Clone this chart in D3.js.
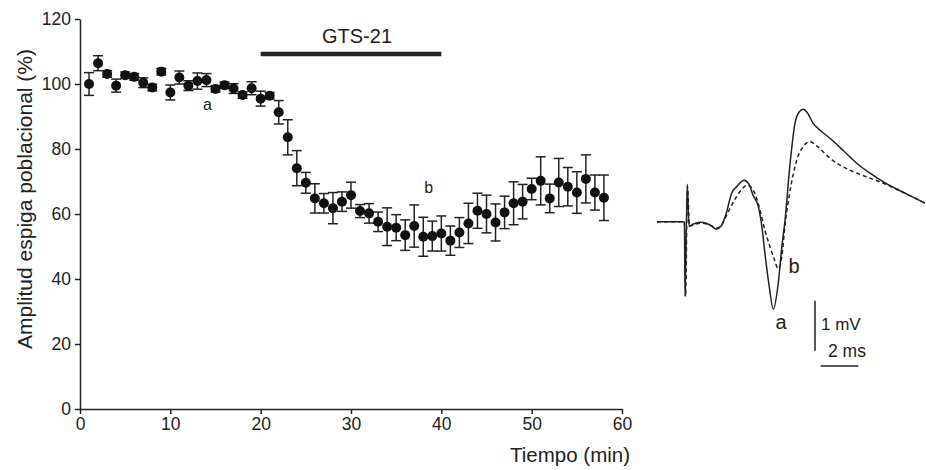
<!DOCTYPE html>
<html>
<head>
<meta charset="utf-8">
<script src="https://cdn.jsdelivr.net/npm/d3@7"></script>
<style>
  body { margin: 0; background: #fff; }
  svg { font-family: "Liberation Sans", Arial, sans-serif; }
  .axis path, .axis line { stroke: #222; stroke-width: 1.5; }
  .axis text { fill: #222; font-size: 17.5px; }
</style>
</head>
<body>
<svg id="chart" width="926" height="470"></svg>
<script>
// time course: minutes, mean (%) and sem
const minutes = d3.range(1, 59);
const amplitude = [100.0, 106.4, 103.1, 99.5, 102.7, 102.2, 100.4, 98.9, 103.8, 97.4,
  102.0, 99.5, 100.9, 101.2, 98.5, 99.6, 98.6, 96.6, 98.7, 95.5,
  96.4, 91.3, 83.6, 74.1, 69.6, 64.8, 63.3, 61.8, 63.8, 65.8,
  60.9, 60.2, 57.6, 56.1, 55.8, 53.5, 56.3, 53.0, 53.2, 54.0,
  51.8, 54.3, 57.1, 61.0, 60.0, 57.4, 60.5, 63.3, 63.8, 67.7,
  70.2, 64.8, 69.7, 68.4, 66.6, 70.8, 66.6, 65.0];
const sem = [3.5, 2.3, 1.0, 2.0, 1.0, 1.0, 1.5, 1.0, 1.0, 2.3,
  2.0, 1.5, 2.5, 2.0, 1.0, 1.0, 1.5, 1.0, 2.0, 2.3,
  1.0, 3.6, 5.4, 5.4, 3.2, 4.5, 3.0, 4.8, 3.0, 4.0,
  2.0, 3.0, 3.0, 5.8, 4.0, 4.7, 6.5, 6.0, 4.6, 5.4,
  4.5, 4.6, 6.2, 5.4, 5.8, 5.7, 5.0, 6.6, 5.3, 3.3,
  7.4, 4.4, 7.4, 5.9, 6.4, 7.4, 5.4, 7.0];
const xTicks = [0, 10, 20, 30, 40, 50, 60];
const yTicks = [0, 20, 40, 60, 80, 100, 120];
const drugPeriod = [20, 40];
const drugName = "GTS-21";
const pointLabels = [{ text: "a", t: 14.1, v: 92.0 }, { text: "b", t: 38.6, v: 66.6 }];

// field potential traces: ms, mV
const traceA_t = [0, 1.46, 1.49, 1.61, 1.70, 1.91, 2.29, 2.61, 2.93, 3.14, 3.40, 3.67, 3.97, 4.26, 4.63, 4.89,
  5.11, 5.39, 5.59, 5.74, 5.96, 6.19, 6.45, 6.65, 6.81, 7.07, 7.34, 7.55, 7.78, 7.98, 8.30, 8.67,
  9.20, 9.89, 10.62, 11.33, 12.02, 13.19, 14.26];
const traceA_v = [0, 0, -1.49, 0.75, -0.09, -0.05, -0.01, -0.03, -0.09, -0.15, -0.09, 0.15, 0.57, 0.71, 0.83, 0.75,
  0.53, 0.30, -0.13, -0.63, -1.27, -1.75, -1.23, -0.47, 0.03, 1.13, 1.97, 2.19, 2.25, 2.19, 1.97, 1.83,
  1.67, 1.43, 1.17, 0.97, 0.80, 0.57, 0.37];
const traceB_t = [0, 1.46, 1.52, 1.62, 1.73, 2.02, 2.39, 2.82, 3.14, 3.46, 3.78, 4.15, 4.47, 4.80, 5.05, 5.27,
  5.48, 5.74, 6.01, 6.22, 6.45, 6.65, 6.81, 7.04, 7.43, 7.77, 8.14, 8.51, 9.20, 9.73, 10.27, 11.06,
  12.04, 13.19, 14.26];
const traceB_v = [0, 0, -1.49, 0.71, -0.09, -0.05, -0.03, -0.07, -0.13, -0.05, 0.19, 0.45, 0.63, 0.73, 0.67, 0.50,
  0.23, -0.17, -0.50, -0.73, -0.94, -0.67, -0.07, 0.53, 1.23, 1.50, 1.60, 1.51, 1.27, 1.13, 1.03, 0.91,
  0.77, 0.57, 0.37];
const traceLabels = [{ text: "a", t: 6.3, v: -2.15 }, { text: "b", t: 7.0, v: -1.03 }];
const scaleBar = { mV: 1, ms: 2 };

const svg = d3.select("#chart");
const ink = "#222";

// main plot
const x = d3.scaleLinear().domain([0, 60]).range([80, 622]);
const y = d3.scaleLinear().domain([0, 120]).range([409, 19]);

svg.append("g").attr("class", "axis")
  .attr("transform", `translate(0,${y(0)})`)
  .call(d3.axisBottom(x).tickValues(xTicks).tickSize(5).tickSizeOuter(0).tickPadding(4));

svg.append("g").attr("class", "axis")
  .attr("transform", `translate(${x(0)},0)`)
  .call(d3.axisLeft(y).tickValues(yTicks).tickSize(5).tickSizeOuter(0).tickPadding(4));

svg.append("text")
  .attr("transform", `translate(32,199) rotate(-90)`)
  .attr("text-anchor", "middle")
  .attr("font-size", 21)
  .attr("fill", ink)
  .text("Amplitud espiga poblacional (%)");

svg.append("text")
  .attr("x", 630).attr("y", 462)
  .attr("text-anchor", "end")
  .attr("font-size", 20.5)
  .attr("fill", ink)
  .text("Tiempo (min)");

// drug bar
svg.append("line")
  .attr("x1", x(drugPeriod[0])).attr("x2", x(drugPeriod[1]))
  .attr("y1", 54).attr("y2", 54)
  .attr("stroke", ink).attr("stroke-width", 4.5);
svg.append("text")
  .attr("x", (x(drugPeriod[0]) + x(drugPeriod[1])) / 2 + 6).attr("y", 43)
  .attr("text-anchor", "middle").attr("font-size", 20).attr("fill", ink)
  .text(drugName);

const pts = minutes.map((m, i) => ({ m: m, v: amplitude[i], e: sem[i] }));

const bars = svg.append("g").attr("stroke", ink).attr("stroke-width", 1.5);
bars.selectAll("line.stem").data(pts).join("line").attr("class", "stem")
  .attr("x1", d => x(d.m)).attr("x2", d => x(d.m))
  .attr("y1", d => y(d.v - d.e)).attr("y2", d => y(d.v + d.e));
bars.selectAll("line.capTop").data(pts).join("line").attr("class", "capTop")
  .attr("x1", d => x(d.m) - 5).attr("x2", d => x(d.m) + 5)
  .attr("y1", d => y(d.v + d.e)).attr("y2", d => y(d.v + d.e));
bars.selectAll("line.capBot").data(pts).join("line").attr("class", "capBot")
  .attr("x1", d => x(d.m) - 5).attr("x2", d => x(d.m) + 5)
  .attr("y1", d => y(d.v - d.e)).attr("y2", d => y(d.v - d.e));

svg.append("g").selectAll("circle").data(pts).join("circle")
  .attr("cx", d => x(d.m)).attr("cy", d => y(d.v)).attr("r", 5)
  .attr("fill", "#111");

svg.append("g").selectAll("text").data(pointLabels).join("text")
  .attr("x", d => x(d.t)).attr("y", d => y(d.v))
  .attr("text-anchor", "middle").attr("font-size", 16).attr("fill", ink)
  .text(d => d.text);

// traces
const tx = d3.scaleLinear().domain([0, 1]).range([657, 657 + 18.8]);
const ty = d3.scaleLinear().domain([0, 1]).range([221.7, 221.7 - 50]);
const line = d3.line().x(d => tx(d[0])).y(d => ty(d[1])).curve(d3.curveMonotoneX);

svg.append("path")
  .attr("d", line(d3.zip(traceB_t, traceB_v)))
  .attr("fill", "none").attr("stroke", ink).attr("stroke-width", 1.5)
  .attr("stroke-dasharray", "4,3");
svg.append("path")
  .attr("d", line(d3.zip(traceA_t, traceA_v)))
  .attr("fill", "none").attr("stroke", ink).attr("stroke-width", 1.5);

svg.append("g").selectAll("text").data(traceLabels).join("text")
  .attr("x", d => tx(d.t)).attr("y", d => ty(d.v))
  .attr("font-size", 20).attr("fill", ink)
  .text(d => d.text);

// scale bars
const sbX = 815, sbY = 350.7;
svg.append("line")
  .attr("x1", sbX).attr("x2", sbX)
  .attr("y1", sbY).attr("y2", sbY - (ty(0) - ty(scaleBar.mV)))
  .attr("stroke", ink).attr("stroke-width", 1.5);
svg.append("line")
  .attr("x1", 820.7).attr("x2", 820.7 + (tx(scaleBar.ms) - tx(0)))
  .attr("y1", 366).attr("y2", 366)
  .attr("stroke", ink).attr("stroke-width", 1.5);
svg.append("text").attr("x", 821).attr("y", 330)
  .attr("font-size", 17).attr("fill", ink).text(scaleBar.mV + " mV");
svg.append("text").attr("x", 828).attr("y", 357)
  .attr("font-size", 17.5).attr("fill", ink).text(scaleBar.ms + " ms");
</script>
</body>
</html>
